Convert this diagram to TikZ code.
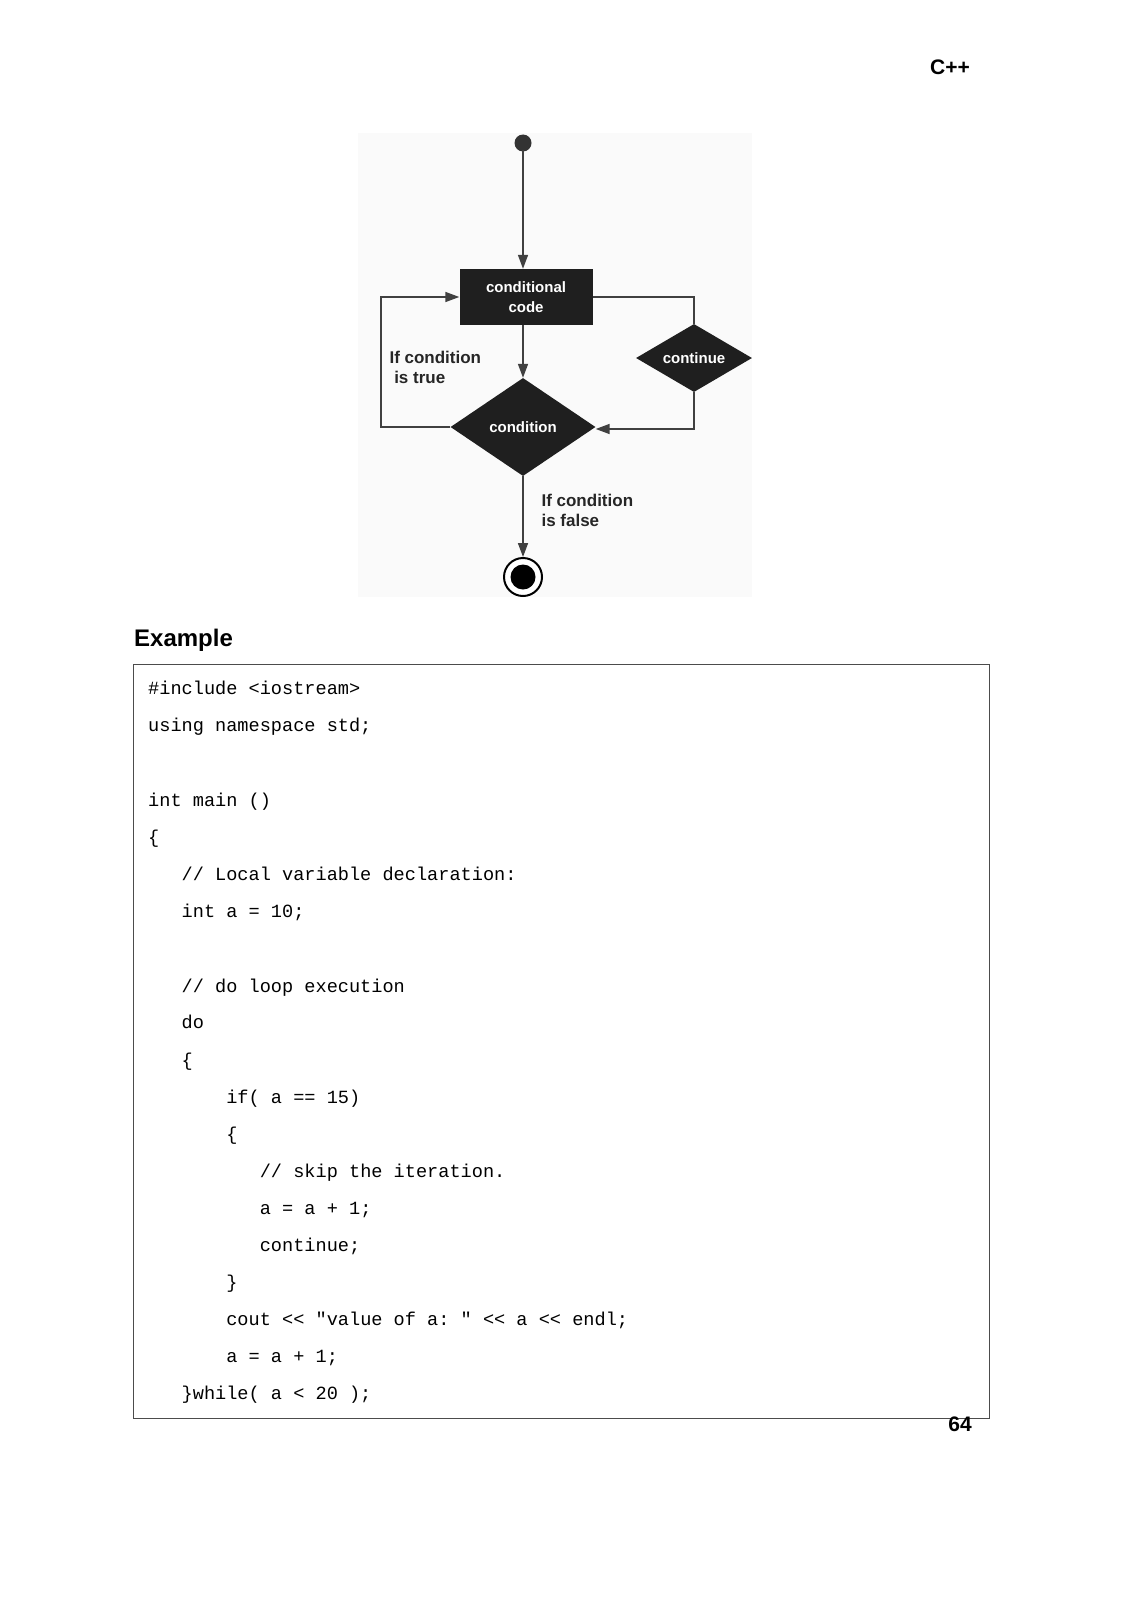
\documentclass[tikz,border=0pt]{standalone}
\usepackage{fontspec}
\setmainfont{Liberation Sans}
\setmonofont{Liberation Mono}
\usetikzlibrary{shapes.geometric,arrows.meta}
\begin{document}
\begin{tikzpicture}[x=1pt,y=-1pt,
  flow/.style={draw=black!75,line width=1.6pt,-{Triangle[length=14pt,width=10pt]}},
  line/.style={draw=black!75,line width=1.6pt},
  dia/.style={diamond,fill=black!88,text=white,font=\bfseries\fontsize{15}{17}\selectfont,inner sep=0pt,aspect=1.5},
  lbl/.style={font=\bfseries\fontsize{17}{20}\selectfont,text=black!85,align=left,anchor=west},
  code/.style={anchor=base west,font=\ttfamily\fontsize{18.6}{20}\selectfont,inner sep=0pt}]
\useasboundingbox (0,0) rectangle (1132,1600);
\fill[white] (0,0) rectangle (1132,1600);
\fill[black!2] (358,133) rectangle (752,597);
\node[font=\bfseries\fontsize{21}{24}\selectfont] (hdr) at (950,67) {C++};
% diagram
\fill[black!80] (523,143) circle (8.5);
\coordinate (start) at (523,150);
\node[fill=black!88,text=white,minimum width=133,minimum height=56,inner sep=0,align=center,font=\bfseries\fontsize{15}{20}\selectfont] (code) at (526,297) {conditional\\code};
\node[dia,minimum width=145,minimum height=98] (cond) at (523,427) {condition};
\node[dia,minimum width=116,minimum height=68] (cont) at (694,358) {continue};
\node[circle,draw=black,line width=2pt,fill=white,minimum size=38,inner sep=0] (end) at (523,577) {};
\fill[black] (end) circle (12.5);
\draw[flow] (start) -- (code.north -| start);
\draw[flow] (code.south -| cond) -- (cond.north);
\coordinate (lc) at (381,427);
\coordinate (lt) at (381,297);
\draw[flow] (cond.west) -- (lc) -- (lt) -- (code.west);
\coordinate (rt) at (694,297);
\draw[line] (code.east) -- (rt) -- (cont.north);
\coordinate (rb) at (694,429);
\draw[flow] (cont.south) -- (rb) -- (cond.east |- rb);
\draw[flow] (cond.south) -- (end.north);
\node[lbl] (tl) at (386,367) {If condition\\\ is true};
\node[lbl] (fl) at (538,510) {If condition\\is false};
% example
\node[anchor=west,font=\bfseries\fontsize{24}{28}\selectfont,inner sep=0] (ex) at (134,640) {Example};
\draw[black!70,line width=1pt] (133,664) rectangle (989,1418) node (box) {};
\foreach \t/\y [count=\i] in {{\#include <iostream>}/694,{using namespace std;}/731,{int main ()}/806,{\{}/843,
  {\ \ \ // Local variable declaration:}/880,{\ \ \ int a = 10;}/917,{\ \ \ // do loop execution}/992,
  {\ \ \ do}/1028,{\ \ \ \{}/1066,{\ \ \ \ \ \ \ if( a == 15)}/1103,{\ \ \ \ \ \ \ \{}/1140,
  {\ \ \ \ \ \ \ \ \ \ // skip the iteration.}/1177,{\ \ \ \ \ \ \ \ \ \ a = a + 1;}/1214,
  {\ \ \ \ \ \ \ \ \ \ continue;}/1251,{\ \ \ \ \ \ \ \}}/1288,
  {\ \ \ \ \ \ \ cout << "value of a: " << a << endl;}/1325,{\ \ \ \ \ \ \ a = a + 1;}/1362,
  {\ \ \ \}while( a < 20 );}/1399}
  \node[code] (c\i) at (148,\y) {\t};
\node[font=\bfseries\fontsize{21}{24}\selectfont] (pg) at (960,1424) {64};
\end{tikzpicture}
\end{document}
